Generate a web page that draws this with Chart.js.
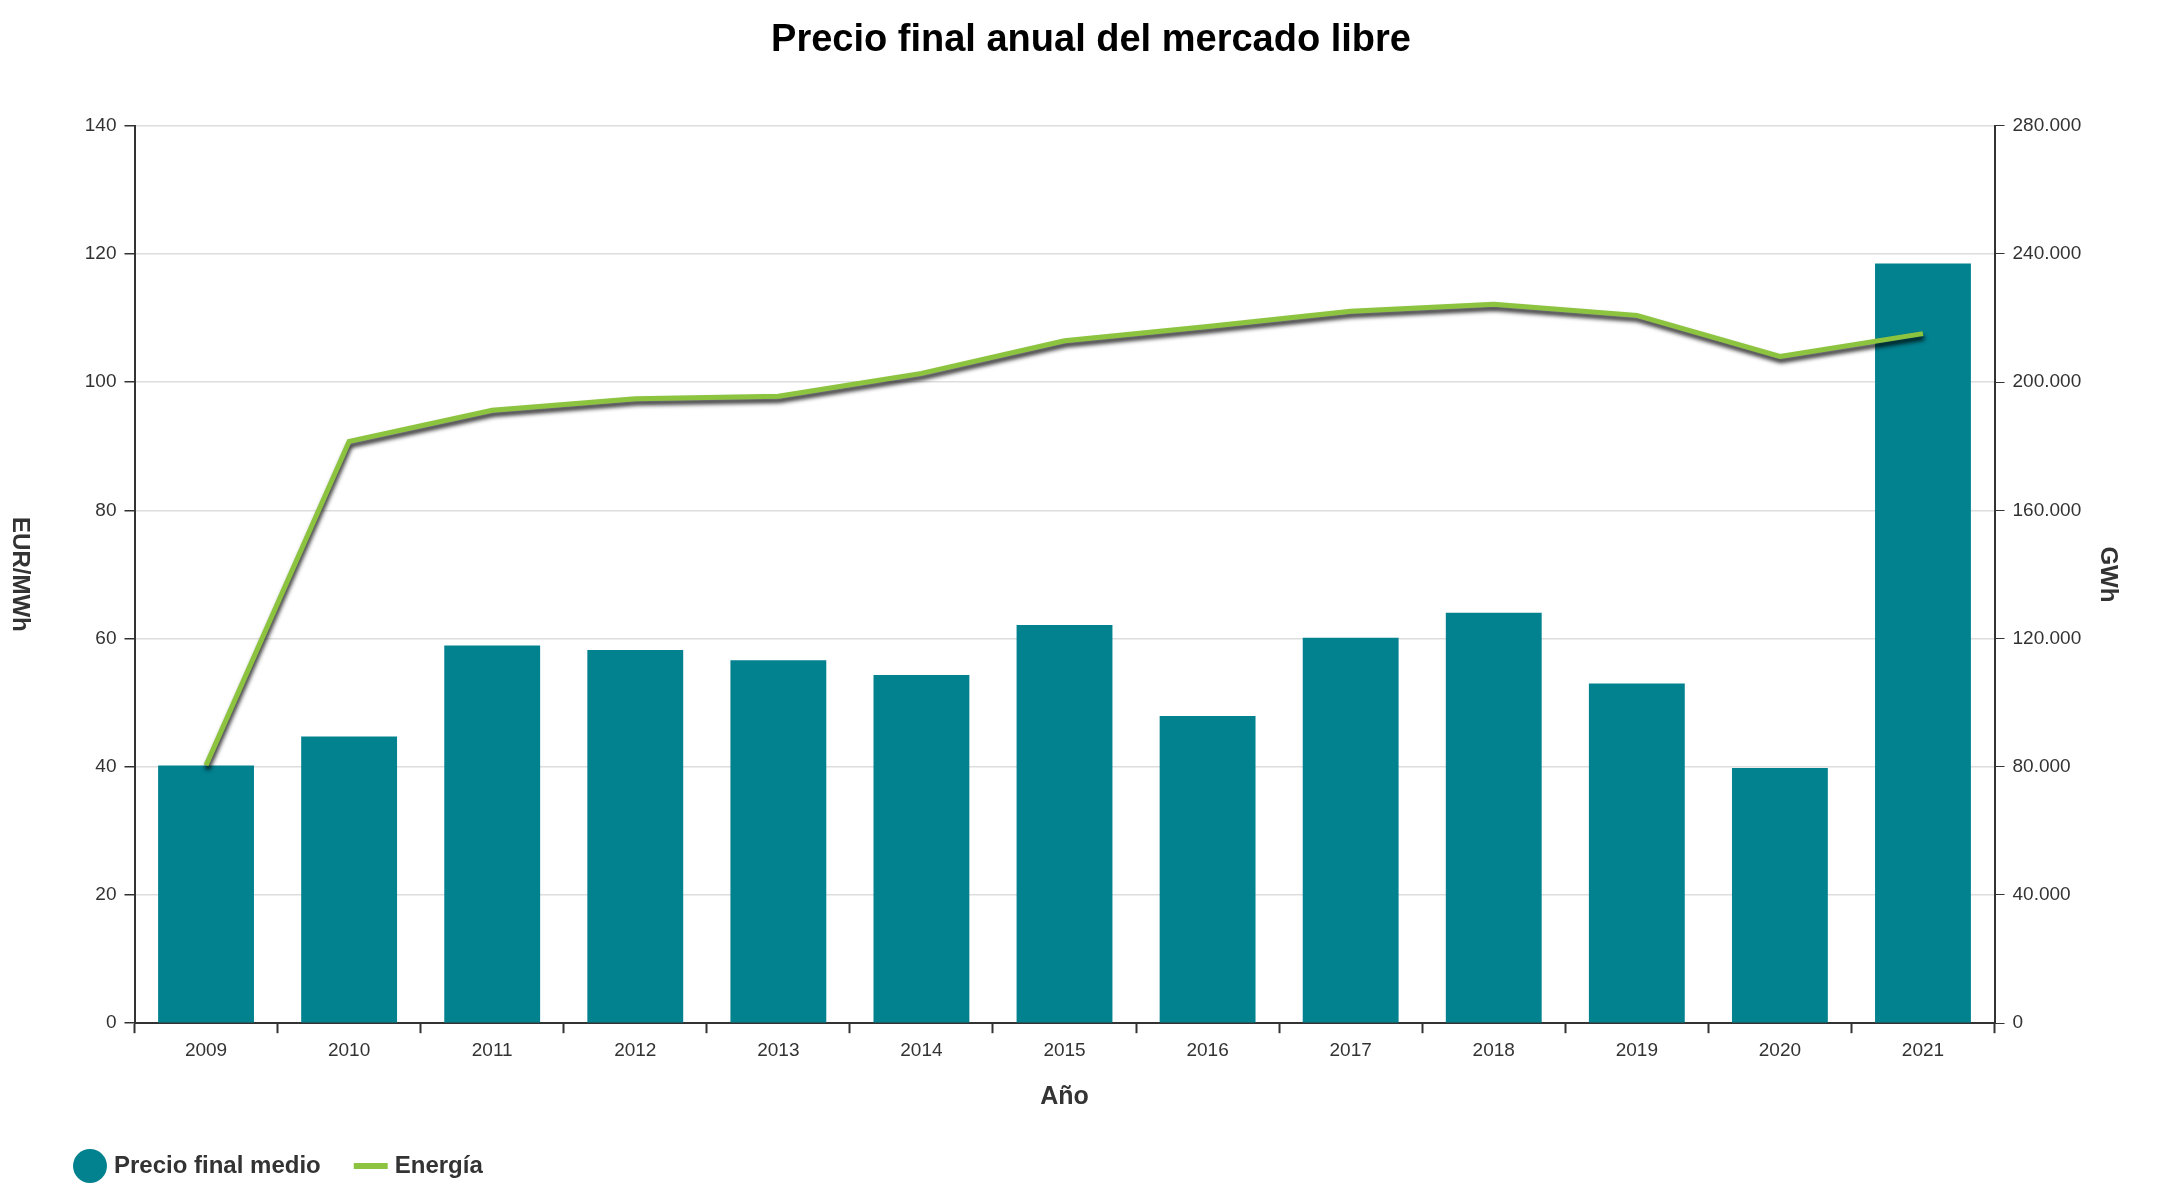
<!DOCTYPE html>
<html><head><meta charset="utf-8">
<script src="https://cdn.jsdelivr.net/npm/chart.js@4"></script>
<style>html,body{margin:0;padding:0;background:#fff}#w{width:2160px;height:1200px}</style>
</head><body><div id="w"><canvas id="c"></canvas></div>
<script>
const years = ['2009','2010','2011','2012','2013','2014','2015','2016','2017','2018','2019','2020','2021'];
const precio = [40.2,44.7,58.9,58.2,56.6,54.3,62.1,47.9,60.1,64.0,53.0,39.8,118.5];
const energia = [80500,181500,191200,194800,195600,202700,212900,217300,222100,224300,220800,208000,215100];
const FONT = '"Liberation Sans", Arial, sans-serif';
const TXT = '#333333';

const shadowPlugin = {
  id:'shadow',
  beforeDatasetDraw(chart,args){ if(args.index===1){const c=chart.ctx;c.save();c.shadowColor='rgba(0,0,0,0.85)';c.shadowBlur=4;c.shadowOffsetX=1;c.shadowOffsetY=4;} },
  afterDatasetDraw(chart,args){ if(args.index===1){chart.ctx.restore();} }
};
const leftTitle = {
  id:'leftTitle',
  afterDraw(chart){const c=chart.ctx,a=chart.chartArea;c.save();c.translate(20,(a.top+a.bottom)/2);c.rotate(Math.PI/2);
    c.font='bold 24px '+FONT;c.fillStyle=TXT;c.textAlign='center';c.textBaseline='middle';c.fillText('EUR/MWh',0,0);c.restore();}
};

new Chart(document.getElementById('c'),{
  data:{labels:years,datasets:[
    {type:'bar',label:'Precio final medio',data:precio,backgroundColor:'#02818f',yAxisID:'y',barPercentage:0.67,categoryPercentage:1,order:2},
    {type:'line',label:'Energía',data:energia,borderColor:'#8cc43f',borderWidth:5,pointRadius:0,tension:0,yAxisID:'y1',order:1}
  ]},
  options:{responsive:true,maintainAspectRatio:false,animation:false,
    layout:{padding:{left:40,right:18,top:10,bottom:12}},
    plugins:{
      title:{display:true,text:'Precio final anual del mercado libre',color:'#000',font:{family:FONT,size:38},padding:{top:8,bottom:62}},
      legend:{position:'bottom',align:'start',labels:{usePointStyle:true,color:TXT,font:{family:FONT,size:24,weight:'bold'},padding:38,
        generateLabels(chart){return [
          {text:'Precio final medio',fillStyle:'#02818f',strokeStyle:'#02818f',pointStyle:'circle',lineWidth:0,datasetIndex:0,fontColor:TXT},
          {text:'Energía',fillStyle:'#8cc43f',strokeStyle:'#8cc43f',pointStyle:'line',lineWidth:6,datasetIndex:1,fontColor:TXT}];}}},
      tooltip:{enabled:false}
    },
    scales:{
      x:{offset:true,grid:{display:true,offset:true,drawOnChartArea:false,color:'#333',tickLength:10,tickWidth:2},border:{color:'#333',width:2},
        ticks:{color:TXT,font:{family:FONT,size:19},padding:6},
        title:{display:true,text:'Año',color:TXT,font:{family:FONT,size:25,weight:'bold'},padding:{top:14}}},
      y:{position:'left',min:0,max:140,ticks:{stepSize:20,color:TXT,font:{family:FONT,size:19},padding:8},
        grid:{color:'#dddddd',tickColor:'#333',tickLength:10,lineWidth:1.5},border:{color:'#333',width:2},
        title:{display:true,text:' ',font:{size:24}}},
      y1:{position:'right',min:0,max:280000,ticks:{stepSize:40000,color:TXT,font:{family:FONT,size:19},padding:8,
        callback:v=>v.toLocaleString('de-DE')},
        grid:{drawOnChartArea:false,color:'#333',tickLength:10},border:{color:'#333',width:2},
        title:{display:true,text:'GWh',color:TXT,font:{family:FONT,size:24,weight:'bold'},padding:{top:20}}}
    }
  },
  plugins:[shadowPlugin,leftTitle]
});
</script></body></html>
